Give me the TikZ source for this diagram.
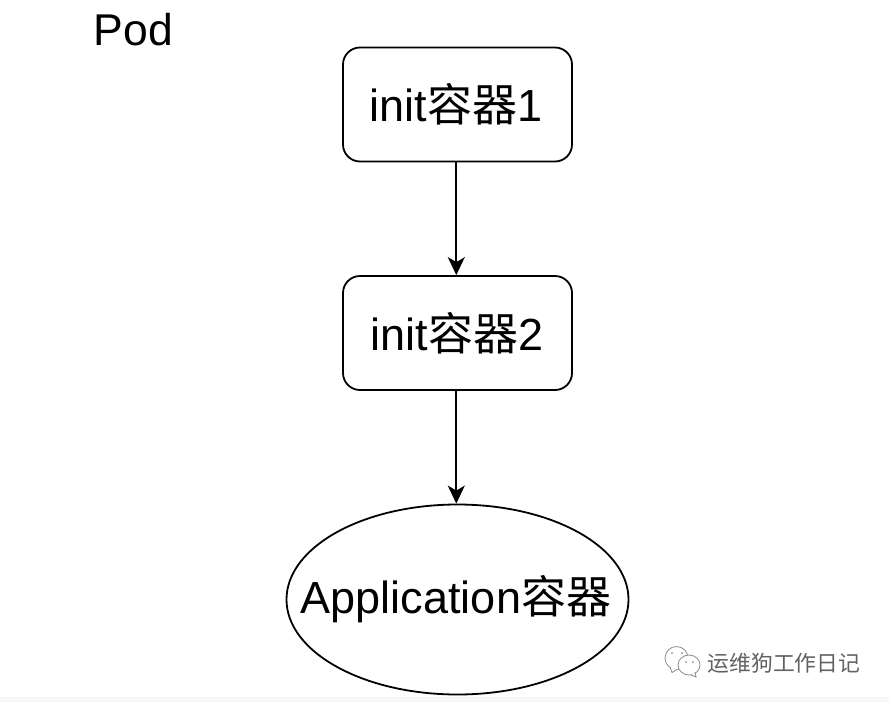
\documentclass[tikz,border=0pt]{standalone}
\usepackage{fontspec}
\setmainfont{Liberation Sans}
\newfontfamily\cjk{Noto Sans CJK SC}
\usetikzlibrary{shapes.geometric,arrows.meta}
\newcommand{\rongqi}{{\cjk 容器}}
\tikzset{
  x=1pt,y=-1pt,
  flowbox/.style={draw,line width=1.8pt,rounded corners=17pt,minimum width=229pt,minimum height=114pt,inner sep=0pt,font=\fontsize{45}{45}\selectfont},
  appnode/.style={draw,ellipse,line width=1.8pt,minimum width=342pt,minimum height=190pt,inner sep=0pt,font=\fontsize{45}{45}\selectfont},
  flow/.style={line width=1.7pt,-{Stealth[length=18pt,width=17pt,inset=5pt]}},
  mark text/.style={text=black!62,font=\cjk\fontsize{21.8}{22}\selectfont,inner sep=0pt,anchor=west},
  bubble/.style={draw=black!45,fill=white,line width=0.8pt},
}
\begin{document}
\begin{tikzpicture}
\useasboundingbox (0,0) rectangle (889,702);
\fill[black!3] (0,697) rectangle (889,702);
\node[font=\fontsize{44.5}{45}\selectfont,inner sep=0pt] (pod) at (133.5,30) {Pod};
\node[flowbox] (a) at (457.5,104.5) {\hspace*{-3pt}init\rongqi 1};
\node[flowbox] (b) at (457.5,333) {\hspace*{-1pt}init\rongqi 2};
\node[appnode] (c) at (457.5,599.5) {\makebox[0pt]{\hspace*{-3pt}Application\rongqi}};
\draw[flow] ([xshift=-1.2pt]a.south) -- ([xshift=-1.2pt]b.north);
\draw[flow] ([xshift=-1.2pt]b.south) -- ([xshift=-1.2pt]c.north);
% account mark: two overlapping chat bubbles
\draw[bubble] (676.5,658) ellipse (11.5pt and 11.5pt);
\draw[bubble] (670,667) -- (672,672.5) -- (677,669.5);
\draw[bubble] (689,665) ellipse (11pt and 10pt);
\draw[bubble] (691,675) -- (696,677) -- (695,672);
\fill[black!45] (672,653) circle (1pt) (682,653) circle (1pt) (686,662) circle (1pt) (693,662) circle (1pt);
\node[mark text] (w) at (707.5,663) {运维狗工作日记};
\end{tikzpicture}
\end{document}
